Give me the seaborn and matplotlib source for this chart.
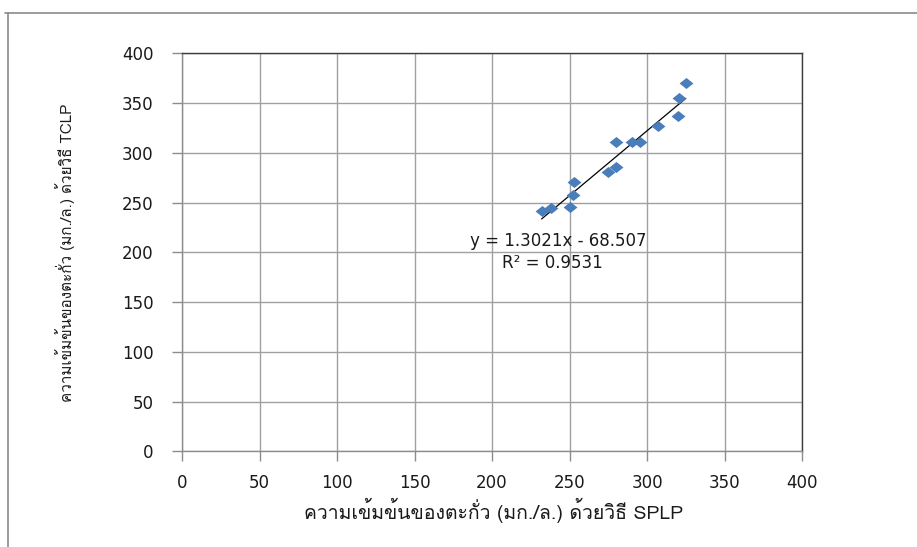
import numpy as np
import pandas as pd
import matplotlib
matplotlib.use("Agg")
import matplotlib.pyplot as plt
from matplotlib import font_manager
from matplotlib.ft2font import FT2Font
from matplotlib.lines import Line2D
import seaborn as sns

# Lead concentration (mg/L): SPLP method vs TCLP method
splp = [232, 238, 250, 252.5, 253, 275, 280, 280, 290, 295.5, 307, 320, 320.5, 325]
tclp = [242, 245, 246, 258, 271, 281, 286, 310.5, 310.5, 311, 327, 337, 355, 370.5]

# Linear trendline reported on the chart
slope = 1.3021
intercept = -68.507
r_squared = 0.9531

ticks = [0, 50, 100, 150, 200, 250, 300, 350, 400]
x_label = "ความเข้มข้นของตะกั่ว (มก./ล.) ด้วยวิธี SPLP"
y_label = "ความเข้มข้นของตะกั่ว (มก./ล.) ด้วยวิธี TCLP"

sns.set_theme(style="white")


def thai_families():
    """Installed font families that contain Thai glyphs."""
    found = []
    for f in font_manager.fontManager.ttflist:
        try:
            cmap = FT2Font(f.fname).get_charmap()
        except Exception:
            continue
        if 0x0E01 in cmap and 0x0E27 in cmap and f.name not in found:
            found.append(f.name)
    return found


thai = thai_families()
plt.rcParams["font.family"] = ["DejaVu Sans"] + thai
label_family = thai + ["DejaVu Sans"]

df = pd.DataFrame({"splp": splp, "tclp": tclp})
xs = np.array([min(splp), max(splp)])
fit = pd.DataFrame({"x": xs, "y": slope * xs + intercept})

# Slightly flattened diamond marker
diamond = [(-1.0, 0.0), (0.0, 0.8), (1.0, 0.0), (0.0, -0.8), (-1.0, 0.0)]

fig = plt.figure(figsize=(9.17, 5.47), dpi=100)
ax = fig.add_axes([0.1985, 0.1746, 0.6761, 0.7280])

sns.lineplot(data=fit, x="x", y="y", ax=ax, color="black", linewidth=0.9, zorder=3)
sns.scatterplot(data=df, x="splp", y="tclp", ax=ax, marker=diamond, s=100,
                color="#4A7EBB", edgecolor="#4A7EBB", linewidth=0, zorder=4)

ax.set_xlim(0, 400)
ax.set_ylim(0, 400)
ax.set_xticks(ticks)
ax.set_yticks(ticks)
ax.set_xticklabels([str(t) for t in ticks])
ax.set_yticklabels([str(t) for t in ticks])
ax.grid(True, color="#a0a0a0", linewidth=1.0)
ax.set_axisbelow(True)
ax.tick_params(axis="both", which="both", length=7, width=1, color="#8c8c8c",
               labelsize=12, labelcolor="#1a1a1a", direction="out",
               bottom=True, left=True)
ax.tick_params(axis="x", pad=9)
ax.tick_params(axis="y", pad=13.5)
for side in ("left", "bottom"):
    ax.spines[side].set_color("#8c8c8c")
    ax.spines[side].set_linewidth(1.0)
for side in ("top", "right"):
    ax.spines[side].set_color("#3c3c3c")
    ax.spines[side].set_linewidth(1.0)
ax.set_xlabel("")
ax.set_ylabel("")

ax.text(243, 211, f"y = {slope}x - {abs(intercept)}", fontsize=12,
        color="#1a1a1a", ha="center", va="center", zorder=5)
ax.text(239, 189, f"R² = {r_squared}", fontsize=12, color="#1a1a1a",
        ha="center", va="center", zorder=5)

fig.text(494 / 917, 1 - 510 / 547, x_label, fontsize=14, color="#1a1a1a",
         ha="center", va="center", family=label_family)
fig.text(65 / 917, 1 - 253 / 547, y_label, fontsize=11, color="#1a1a1a",
         ha="center", va="center", rotation=90, family=label_family)

# Outer chart-area frame
fig.add_artist(Line2D([5 / 917, 1], [1 - 13 / 547] * 2, transform=fig.transFigure,
                      color="#8a8a8a", linewidth=1.2))
fig.add_artist(Line2D([8 / 917] * 2, [0, 1 - 13 / 547], transform=fig.transFigure,
                      color="#8a8a8a", linewidth=1.2))

fig.savefig("out.png", dpi=100, facecolor="white")
